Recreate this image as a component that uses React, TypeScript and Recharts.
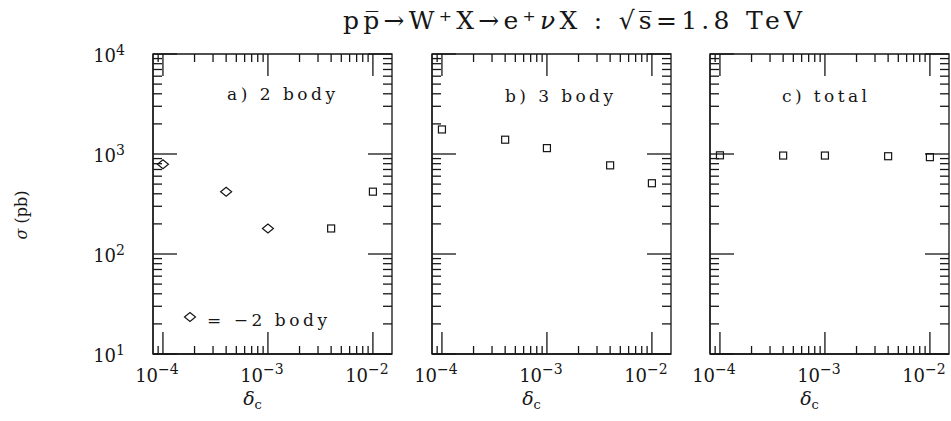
import { ScatterChart, Scatter, XAxis, YAxis, ReferenceArea } from "recharts";

// delta_c cut values (x) and cross sections in pb (y)
const deltaC = [1e-4, 4e-4, 1e-3, 4e-3, 1e-2];
const sigma2Body = [-790, -420, -180, 180, 420];
const sigma3Body = [1760, 1390, 1145, 770, 510];
const sigmaTotal = [970, 965, 965, 950, 930];

const panelTitles = ["a) 2 body", "b) 3 body", "c) total"];

const xTicks = [
  9e-5, 1e-4, 2e-4, 3e-4, 4e-4, 5e-4, 6e-4, 7e-4, 8e-4, 9e-4,
  1e-3, 2e-3, 3e-3, 4e-3, 5e-3, 6e-3, 7e-3, 8e-3, 9e-3, 1e-2,
];
const xMajor = [1e-4, 1e-3, 1e-2];
const xMajorExp = ["\u22124", "\u22123", "\u22122"];

const yTicks = [
  10, 20, 30, 40, 50, 60, 70, 80, 90,
  100, 200, 300, 400, 500, 600, 700, 800, 900,
  1000, 2000, 3000, 4000, 5000, 6000, 7000, 8000, 9000, 10000,
];
const yMajor = [10, 100, 1000, 10000];
const yMajorExp = ["1", "2", "3", "4"];

const X_DOMAIN = [8.04e-5, 1.52e-2];
const Y_DOMAIN = [10, 10000];

const PLOT_W = 239;
const PLOT_H = 300;
const PLOT_TOP = 54;
const Y_AXIS_W = 60;
const INK = "#161616";
const FONT = "'DejaVu Serif', serif";

const panelLefts = [153, 432, 710];

const majorIndex = (list: number[], v: number) =>
  list.findIndex((m) => Math.abs(m - v) / m < 1e-6);

const XTick = (props: any) => {
  const { x, y, payload } = props;
  const mi = majorIndex(xMajor, payload.value);
  const len = mi >= 0 ? 22 : 8;
  return (
    <g>
      <line x1={x} y1={y} x2={x} y2={y - len} stroke={INK} strokeWidth={1.3} />
      <line x1={x} y1={y - PLOT_H} x2={x} y2={y - PLOT_H + len} stroke={INK} strokeWidth={1.3} />
      {mi >= 0 && (
        <text x={x - 6} y={y + 28} textAnchor="middle" fontFamily={FONT} fontSize={18} fill={INK}>
          10
          <tspan dy={-8} fontSize={14}>
            {xMajorExp[mi]}
          </tspan>
        </text>
      )}
    </g>
  );
};

const YTick = (props: any) => {
  const { x, y, payload, showLabels } = props;
  const mi = majorIndex(yMajor, payload.value);
  const len = mi >= 0 ? 24 : 9;
  return (
    <g>
      <line x1={x} y1={y} x2={x + len} y2={y} stroke={INK} strokeWidth={1.3} />
      <line x1={x + PLOT_W} y1={y} x2={x + PLOT_W - len} y2={y} stroke={INK} strokeWidth={1.3} />
      {showLabels && mi >= 0 && (
        <text x={x - 28} y={y + 8} textAnchor="end" fontFamily={FONT} fontSize={18} fill={INK}>
          10
          <tspan dy={-7} fontSize={14}>
            {yMajorExp[mi]}
          </tspan>
        </text>
      )}
    </g>
  );
};

const Marker = (props: any) => {
  const { cx, cy, payload } = props;
  if (payload.neg) {
    return (
      <path
        d={`M${cx - 5.5},${cy} L${cx},${cy - 4.5} L${cx + 5.5},${cy} L${cx},${cy + 4.5} Z`}
        fill="none"
        stroke={INK}
        strokeWidth={1.2}
      />
    );
  }
  return (
    <rect x={cx - 3.5} y={cy - 3.5} width={7} height={7} fill="none" stroke={INK} strokeWidth={1.2} />
  );
};

const toPoints = (values: number[]) =>
  deltaC.map((x, i) => ({ x, y: Math.abs(values[i]), neg: values[i] < 0 }));

const Panel = ({ left, values, showLabels }: { left: number; values: number[]; showLabels: boolean }) => (
  <div style={{ position: "absolute", left: left - Y_AXIS_W, top: 0 }}>
    <ScatterChart
      width={Y_AXIS_W + PLOT_W + 20}
      height={421}
      margin={{ top: PLOT_TOP, right: 20, bottom: 0, left: 0 }}
    >
      <XAxis
        type="number"
        dataKey="x"
        scale="log"
        domain={X_DOMAIN}
        allowDataOverflow
        ticks={xTicks}
        interval={0}
        tickSize={0}
        tickMargin={0}
        tickLine={false}
        tick={(p: any) => <XTick {...p} />}
        height={421 - PLOT_TOP - PLOT_H}
        axisLine={{ stroke: INK, strokeWidth: 1.3 }}
      />
      <YAxis
        type="number"
        dataKey="y"
        scale="log"
        domain={Y_DOMAIN}
        allowDataOverflow
        ticks={yTicks}
        interval={0}
        tickSize={0}
        tickMargin={0}
        tickLine={false}
        tick={(p: any) => <YTick {...p} showLabels={showLabels} />}
        width={Y_AXIS_W}
        axisLine={{ stroke: INK, strokeWidth: 1.3 }}
      />
      <ReferenceArea
        x1={X_DOMAIN[0]}
        x2={X_DOMAIN[1]}
        y1={Y_DOMAIN[0]}
        y2={Y_DOMAIN[1]}
        fill="none"
        fillOpacity={0}
        stroke={INK}
        strokeWidth={1.3}
        ifOverflow="visible"
      />
      <Scatter data={toPoints(values)} shape={Marker} isAnimationActive={false} />
    </ScatterChart>
  </div>
);

export default function App() {
  const series = [sigma2Body, sigma3Body, sigmaTotal];
  const titleX = [227, 505, 782];
  const titleLen = [108, 108, 85];
  return (
    <div style={{ position: "absolute", left: 0, top: 0, width: 951, height: 421, background: "#fff" }}>
      {series.map((values, i) => (
        <Panel key={i} left={panelLefts[i]} values={values} showLabels={i === 0} />
      ))}
      <svg
        width={951}
        height={421}
        style={{ position: "absolute", left: 0, top: 0, pointerEvents: "none" }}
        fontFamily={FONT}
        fill={INK}
      >
        <text x={343} y={29} fontSize={25} textLength={459} lengthAdjust="spacing">
          p{"p\u0305"}{"\u2192"}W{"\u207A"}X{"\u2192"}e{"\u207A"}
          <tspan fontStyle="italic">{"\u03BD"}</tspan>X : {"\u221A"}{"s\u0305"}=1.8 TeV
        </text>
        <text x={27} y={215} fontSize={16} textAnchor="middle" transform="rotate(-90 27 215)">
          <tspan fontStyle="italic">{"\u03C3"}</tspan> (pb)
        </text>
        {panelTitles.map((t, i) => (
          <text key={t} x={titleX[i]} y={i === 0 ? 100 : 102} fontSize={17} textLength={titleLen[i]} lengthAdjust="spacing">
            {t}
          </text>
        ))}
        <path d="M184.5,317 L190,312.5 L195.5,317 L190,321.5 Z" fill="none" stroke={INK} strokeWidth={1.2} />
        <text x={207} y={326} fontSize={17} textLength={120} lengthAdjust="spacing">
          = {"\u2212"}2 body
        </text>
        {panelLefts.map((l) => (
          <text key={l} x={l + PLOT_W / 2 - 20} y={405} fontSize={19} textAnchor="middle">
            <tspan fontStyle="italic">{"\u03B4"}</tspan>
            <tspan dy={4} fontSize={13}>c</tspan>
          </text>
        ))}
      </svg>
    </div>
  );
}
